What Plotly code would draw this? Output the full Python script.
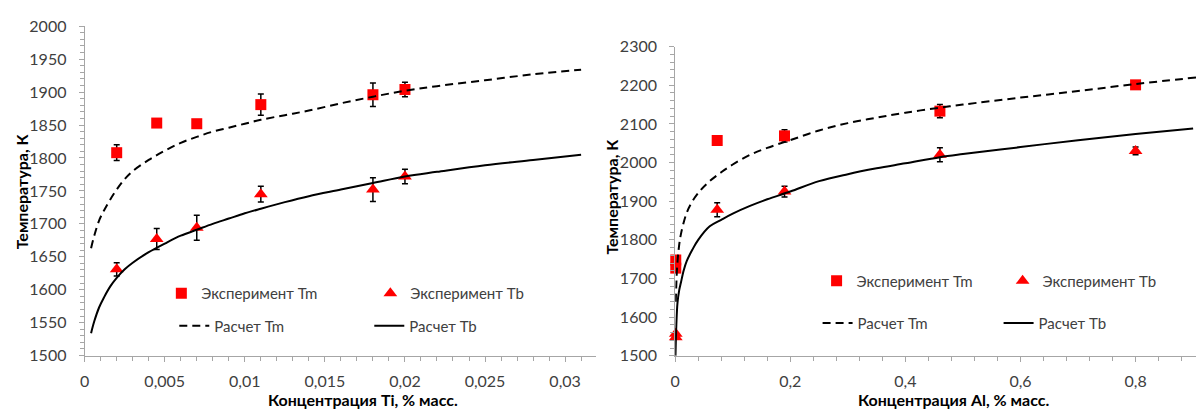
import plotly.graph_objects as go

# ---------------- Data: left panel (Ti) ----------------
ti_exp_x = [0.002, 0.0045, 0.007, 0.011, 0.018, 0.02]
ti_tm_exp = [1808, 1853, 1852, 1881, 1896, 1904]
ti_tm_err = [12, 0, 0, 16, 18, 11]
ti_tb_exp = [1631, 1677, 1694, 1745, 1752, 1772]
ti_tb_err = [10, 16, 19, 12, 18, 11]

ti_calc_x = [0.0004, 0.0006, 0.0009, 0.0012, 0.0016, 0.002, 0.0025, 0.003, 0.004,
             0.005, 0.006, 0.007, 0.008, 0.009, 0.01, 0.011, 0.0125, 0.014, 0.016,
             0.018, 0.02, 0.022, 0.025, 0.028, 0.031]
ti_tm_calc = [1663, 1682, 1705, 1720, 1737, 1752, 1768, 1780, 1797,
              1811, 1823, 1832, 1840, 1846, 1852, 1858, 1865, 1872, 1883,
              1893, 1902, 1909, 1918, 1927, 1934]
ti_tb_calc = [1534, 1552, 1573, 1588, 1605, 1618, 1631, 1641, 1657,
              1670, 1682, 1691, 1700, 1708, 1716, 1723, 1733, 1742, 1752,
              1762, 1772, 1779, 1789, 1797, 1805]

# ---------------- Data: right panel (Al) ----------------
al_exp_x = [0.001, 0.001, 0.073, 0.19, 0.46, 0.8]
al_tm_exp = [1748, 1727, 2057, 2069, 2133, 2201]
al_tm_err = [0, 0, 0, 16, 17, 8]
al_tb_exp = [1557, 1548, 1878, 1925, 2020, 2030]
al_tb_err = [0, 0, 18, 14, 18, 10]

al_tm_calc_x = [0.001, 0.003, 0.006, 0.01, 0.02, 0.03, 0.045, 0.06, 0.08, 0.1, 0.13,
                0.16, 0.2, 0.25, 0.3, 0.35, 0.4, 0.46, 0.5, 0.6, 0.7, 0.8, 0.905]
al_tm_calc = [1640, 1720, 1775, 1815, 1870, 1900, 1930, 1952, 1975, 1995, 2020,
              2038, 2058, 2083, 2102, 2116, 2129, 2142, 2150, 2168, 2185, 2203, 2220]
al_tb_calc_x = [0.0005, 0.002, 0.004, 0.007, 0.01, 0.015, 0.02, 0.03, 0.04, 0.06, 0.08,
                0.1, 0.13, 0.16, 0.2, 0.25, 0.3, 0.35, 0.4, 0.46, 0.5, 0.6, 0.7, 0.8, 0.9]
al_tb_calc = [1500, 1580, 1637, 1670, 1690, 1722, 1745, 1775, 1800, 1835, 1852,
              1868, 1888, 1905, 1925, 1952, 1970, 1985, 1998, 2014, 2022, 2040, 2058, 2074, 2088]

legend_names = ["Эксперимент Tm", "Эксперимент Tb", "Расчет Tm", "Расчет Tb"]
y_title = "Температура, К"
x_title_left = "Концентрация Ti, % масс."
x_title_right = "Концентрация Al, % масс."

W, H = 1196, 419
FONT = "Lato"
RED = "#ff0000"

fig = go.Figure()

def err(vals):
    return dict(type="data", array=vals, visible=True, color="black", thickness=1.5, width=3)

SQ = dict(symbol="square", size=11, color=RED)
TR = dict(symbol="triangle-up", size=12, color=RED)

# Left panel traces
fig.add_trace(go.Scatter(x=ti_exp_x, y=ti_tm_exp, mode="markers", name=legend_names[0],
                         marker=SQ, cliponaxis=False,
                         error_y=err(ti_tm_err), xaxis="x", yaxis="y", legend="legend"))
fig.add_trace(go.Scatter(x=ti_exp_x, y=ti_tb_exp, mode="markers", name=legend_names[1],
                         marker=TR, cliponaxis=False,
                         error_y=err(ti_tb_err), xaxis="x", yaxis="y", legend="legend"))
fig.add_trace(go.Scatter(x=ti_calc_x, y=ti_tm_calc, mode="lines", name=legend_names[2],
                         line=dict(color="black", width=2, dash="8px,5px", shape="spline"),
                         xaxis="x", yaxis="y", legend="legend2"))
fig.add_trace(go.Scatter(x=ti_calc_x, y=ti_tb_calc, mode="lines", name=legend_names[3],
                         line=dict(color="black", width=2, shape="spline"),
                         xaxis="x", yaxis="y", legend="legend2"))

# Right panel traces
fig.add_trace(go.Scatter(x=al_exp_x, y=al_tm_exp, mode="markers", name=legend_names[0],
                         marker=SQ, cliponaxis=False,
                         error_y=err(al_tm_err), xaxis="x2", yaxis="y2", legend="legend3"))
fig.add_trace(go.Scatter(x=al_exp_x, y=al_tb_exp, mode="markers", name=legend_names[1],
                         marker=TR, cliponaxis=False,
                         error_y=err(al_tb_err), xaxis="x2", yaxis="y2", legend="legend3"))
fig.add_trace(go.Scatter(x=al_tm_calc_x, y=al_tm_calc, mode="lines", name=legend_names[2],
                         line=dict(color="black", width=2, dash="8px,5px", shape="spline"),
                         xaxis="x2", yaxis="y2", legend="legend4"))
fig.add_trace(go.Scatter(x=al_tb_calc_x, y=al_tb_calc, mode="lines", name=legend_names[3],
                         line=dict(color="black", width=2, shape="spline"),
                         xaxis="x2", yaxis="y2", legend="legend4"))

AX_COLOR = "#a6a6a6"
TICK_FONT = dict(family=FONT, size=16, color="#404040")

def xaxis(domain, rng, dtick, mdtick, anchor):
    return dict(domain=domain, range=rng, dtick=dtick, tick0=0, anchor=anchor,
                showgrid=False, zeroline=False, showline=True, linecolor=AX_COLOR, linewidth=1,
                ticks="outside", ticklen=5, tickcolor=AX_COLOR, tickfont=TICK_FONT,
                ticklabelstandoff=6,
                minor=dict(dtick=mdtick, tick0=0, ticks="outside", ticklen=4, tickcolor=AX_COLOR),
                fixedrange=True)

def yaxis(domain, rng, dtick, mdtick, anchor):
    return dict(domain=domain, range=rng, dtick=dtick, tick0=0, anchor=anchor,
                showgrid=False, zeroline=False, showline=True, linecolor=AX_COLOR, linewidth=1,
                ticks="outside", ticklen=5, tickcolor=AX_COLOR, tickfont=TICK_FONT,
                ticklabelstandoff=9,
                minor=dict(dtick=mdtick, tick0=0, ticks="outside", ticklen=4, tickcolor=AX_COLOR),
                fixedrange=True)

def px_x(p):
    return p / W

def px_y(p):
    return (H - p) / H

LEG_FONT = dict(family=FONT, size=15, color="#404040")

def legend(xpx, ypx, ew):
    return dict(x=px_x(xpx), y=px_y(ypx), xanchor="left", yanchor="middle",
                orientation="h", entrywidth=ew, entrywidthmode="pixels",
                bgcolor="rgba(0,0,0,0)", borderwidth=0, font=LEG_FONT,
                itemclick=False, itemdoubleclick=False, traceorder="normal")

fig.update_layout(
    width=W, height=H,
    margin=dict(l=0, r=0, t=0, b=0),
    paper_bgcolor="white", plot_bgcolor="white",
    separators=", ",
    font=dict(family=FONT, size=14, color="#404040"),
    xaxis=xaxis([px_x(80), px_x(593)], [0, 0.0319], 0.005, 0.001, "y"),
    yaxis=yaxis([px_y(362), px_y(17)], [1500, 2000], 50, 10, "x"),
    xaxis2=xaxis([px_x(673), 1.0], [0, 0.905], 0.2, 0.04, "y2"),
    yaxis2=yaxis([px_y(362.3), px_y(38.3)], [1500, 2300], 100, 20, "x2"),
    legend=legend(157, 297, 164),
    legend2=legend(170, 331, 150),
    legend3=legend(815, 284, 141),
    legend4=legend(816, 328, 136),
    showlegend=True,
)

TITLE_FONT = dict(family=FONT, size=16, color="black")
annos = [
    dict(text="<b>%s</b>" % x_title_left, x=px_x(360), y=px_y(408), xref="paper", yref="paper",
         showarrow=False, font=TITLE_FONT, xanchor="center", yanchor="middle"),
    dict(text="<b>%s</b>" % x_title_right, x=px_x(952), y=px_y(408), xref="paper", yref="paper",
         showarrow=False, font=TITLE_FONT, xanchor="center", yanchor="middle"),
    dict(text="<b>%s</b>" % y_title, x=px_x(16), y=px_y(190), xref="paper", yref="paper",
         showarrow=False, font=TITLE_FONT, textangle=-90, xanchor="center", yanchor="middle"),
    dict(text="<b>%s</b>" % y_title, x=px_x(609), y=px_y(195), xref="paper", yref="paper",
         showarrow=False, font=TITLE_FONT, textangle=-90, xanchor="center", yanchor="middle"),
]
fig.update_layout(annotations=annos)

fig.write_html("out.html", config=dict(displayModeBar=False))
